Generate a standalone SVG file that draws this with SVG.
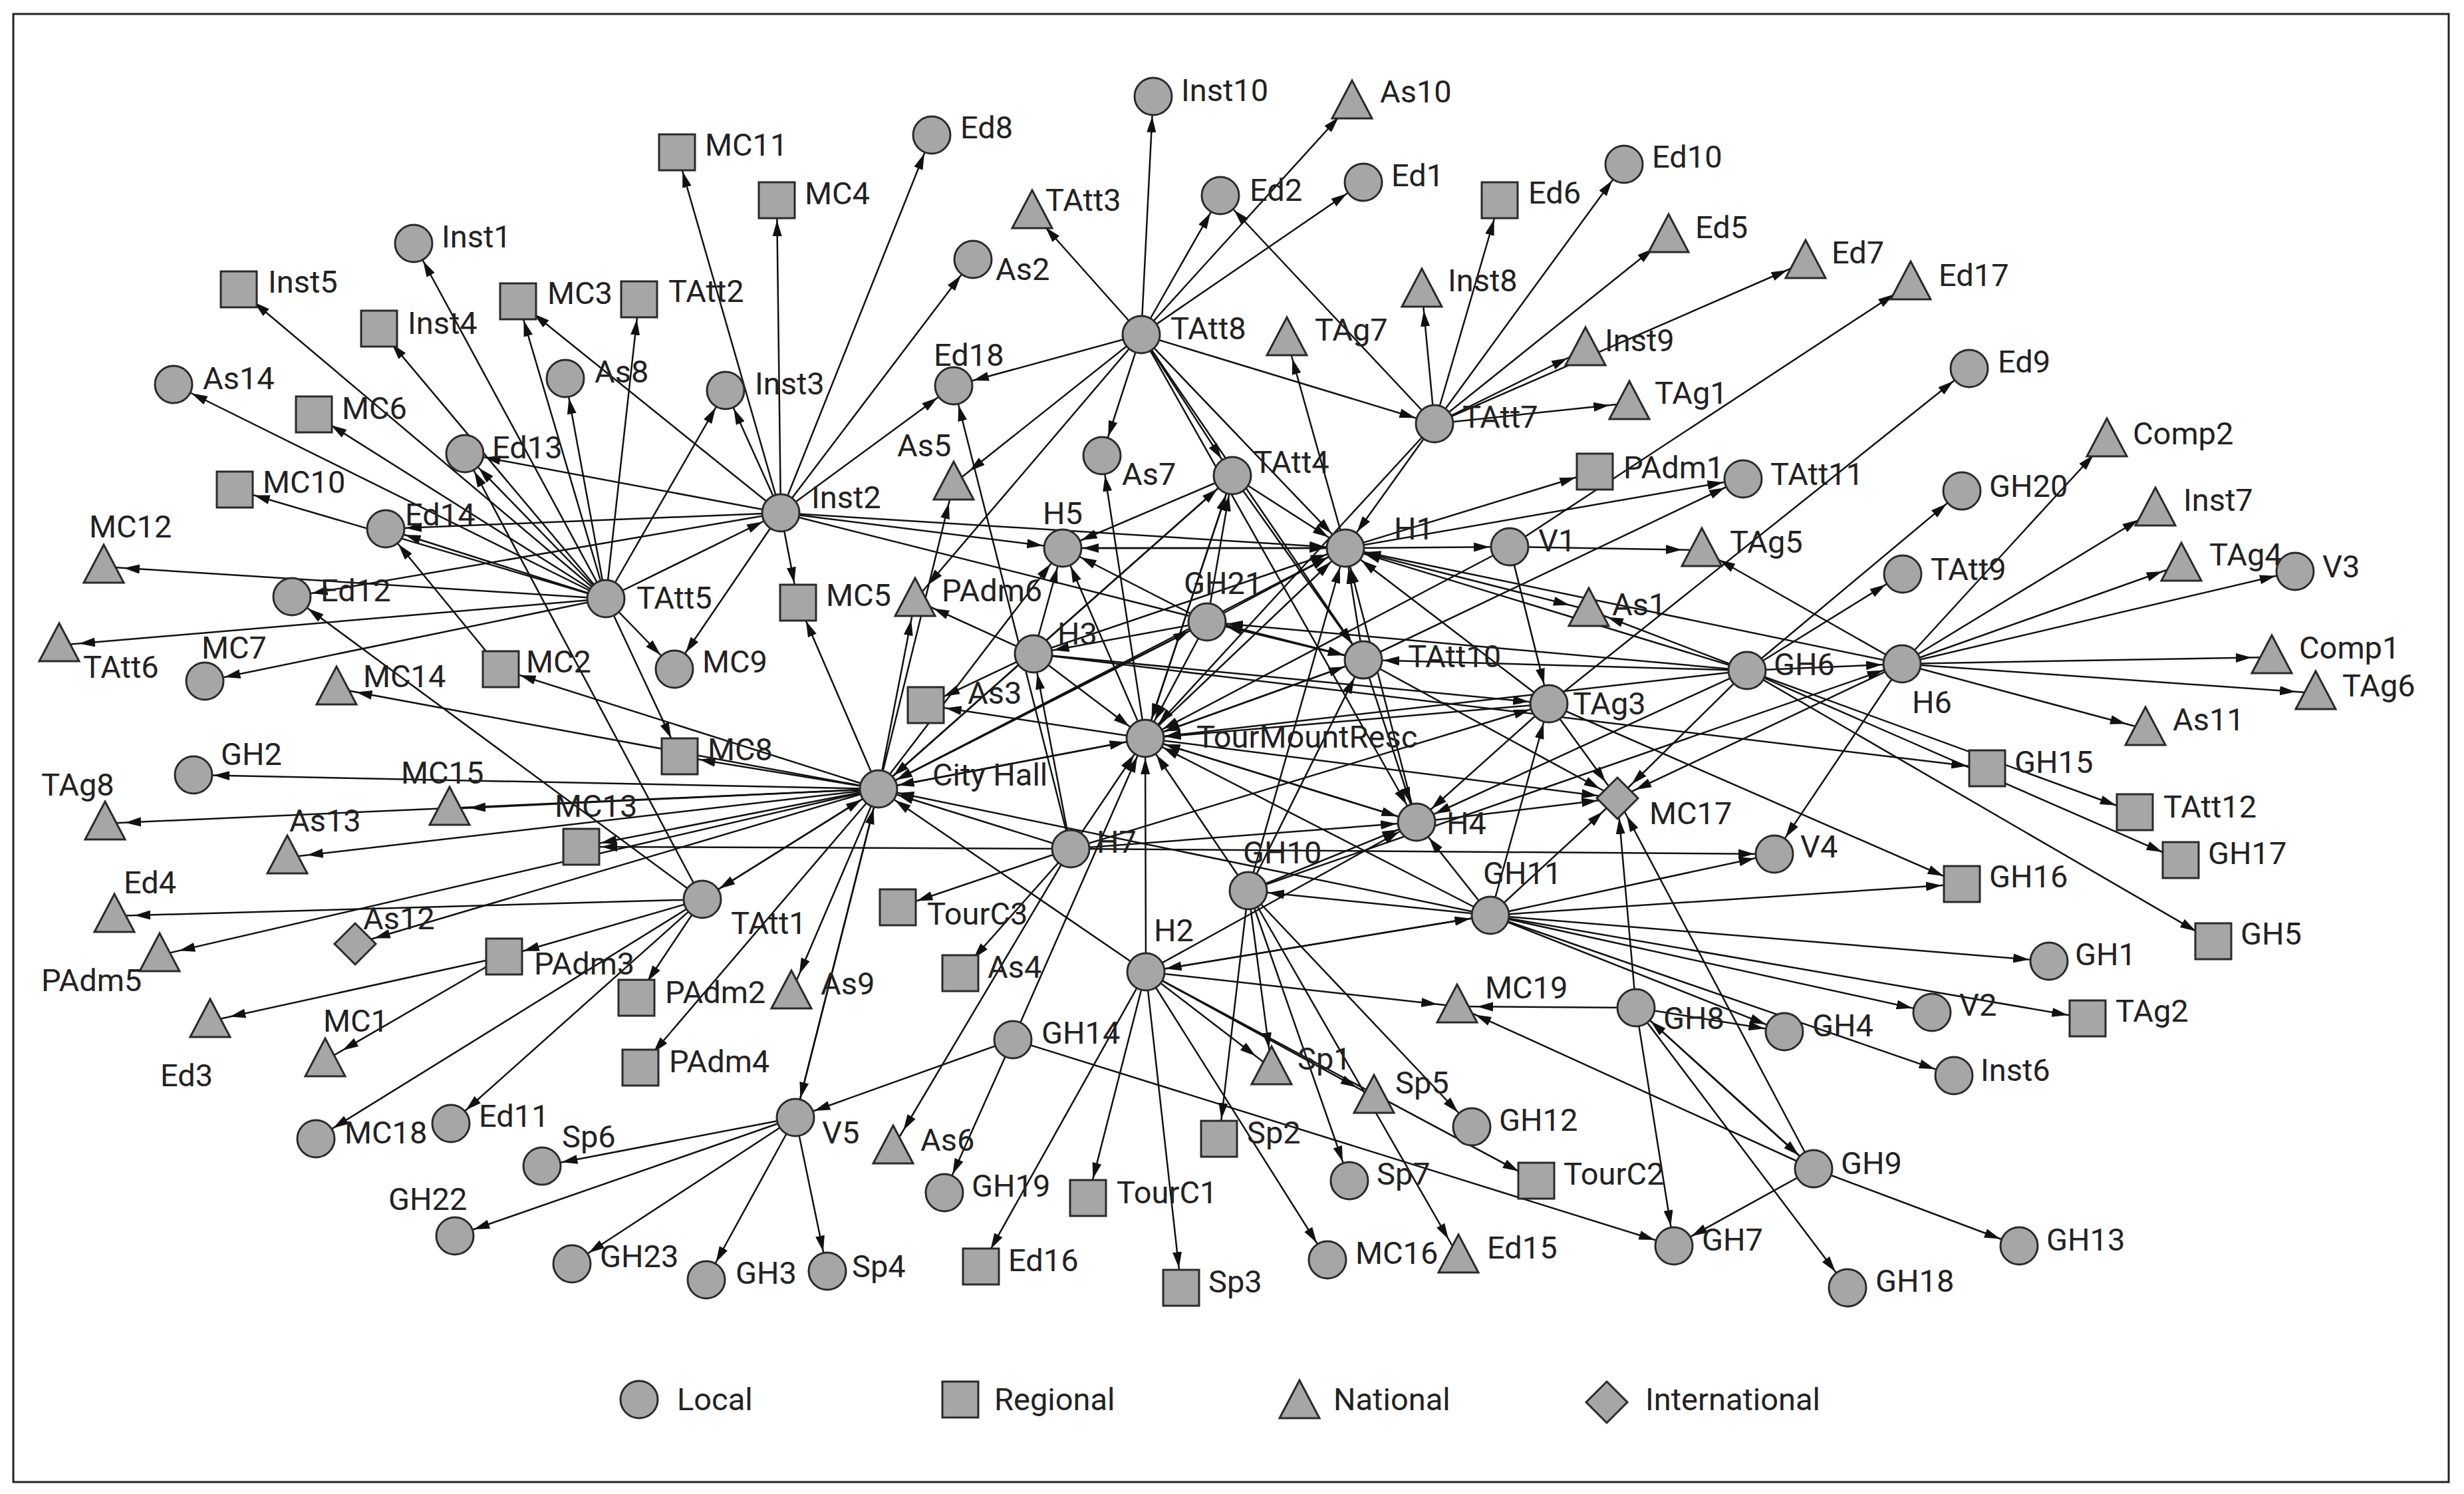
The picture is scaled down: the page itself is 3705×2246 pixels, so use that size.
<svg xmlns="http://www.w3.org/2000/svg" xmlns:xlink="http://www.w3.org/1999/xlink" width="3705" height="2246" viewBox="0 0 3705 2246">
<style>
.e{stroke:#111;stroke-width:2.5;fill:none;marker-end:url(#a)}
.n{fill:#a6a6a6;stroke:#2a2a2a;stroke-width:3}
text{font-family:Roboto,"Liberation Sans",sans-serif;font-size:47px;fill:#222}
</style>
<defs>
<marker id="a" markerUnits="userSpaceOnUse" markerWidth="60" markerHeight="20" viewBox="0 0 60 20" refX="54" refY="10" orient="auto"><path d="M0,3 L24,10 L0,17 z" fill="#111"/></marker>
<circle id="c" class="n" cx="0" cy="0" r="28"/>
<rect id="s" class="n" x="-27" y="-27" width="54" height="54"/>
<polygon id="t" class="n" points="0,-33 30,24 -30,24"/>
<polygon id="d" class="n" points="0,-31 31,0 0,31 -31,0"/>
</defs>
<rect x="0" y="0" width="3705" height="2246" fill="#fff"/>
<rect x="20" y="21" width="3662" height="2207" fill="none" stroke="#222" stroke-width="3"/>
<g id="connectors">
<line class="e" x1="911" y1="900" x2="622" y2="366"/>
<line class="e" x1="911" y1="900" x2="359" y2="435"/>
<line class="e" x1="911" y1="900" x2="570" y2="494"/>
<line class="e" x1="911" y1="900" x2="779" y2="453"/>
<line class="e" x1="911" y1="900" x2="961" y2="450"/>
<line class="e" x1="911" y1="900" x2="850" y2="569"/>
<line class="e" x1="911" y1="900" x2="1091" y2="587"/>
<line class="e" x1="911" y1="900" x2="261" y2="578"/>
<line class="e" x1="911" y1="900" x2="472" y2="623"/>
<line class="e" x1="911" y1="900" x2="580" y2="795"/>
<line class="e" x1="911" y1="900" x2="353" y2="736"/>
<line class="e" x1="911" y1="900" x2="156" y2="852"/>
<line class="e" x1="911" y1="900" x2="89" y2="970"/>
<line class="e" x1="911" y1="900" x2="308" y2="1024"/>
<line class="e" x1="911" y1="900" x2="1014" y2="1006"/>
<line class="e" x1="911" y1="900" x2="1022" y2="1137"/>
<line class="e" x1="911" y1="900" x2="1174" y2="771"/>
<line class="e" x1="911" y1="900" x2="699" y2="682"/>
<line class="e" x1="1174" y1="771" x2="1018" y2="229"/>
<line class="e" x1="1174" y1="771" x2="1168" y2="301"/>
<line class="e" x1="1174" y1="771" x2="1401" y2="203"/>
<line class="e" x1="1174" y1="771" x2="1463" y2="390"/>
<line class="e" x1="1174" y1="771" x2="1434" y2="580"/>
<line class="e" x1="1174" y1="771" x2="1091" y2="587"/>
<line class="e" x1="1174" y1="771" x2="439" y2="897"/>
<line class="e" x1="1174" y1="771" x2="580" y2="795"/>
<line class="e" x1="1174" y1="771" x2="1200" y2="906"/>
<line class="e" x1="1174" y1="771" x2="1014" y2="1006"/>
<line class="e" x1="1174" y1="771" x2="1598" y2="824"/>
<line class="e" x1="1174" y1="771" x2="2023" y2="824"/>
<line class="e" x1="1174" y1="771" x2="699" y2="682"/>
<line class="e" x1="1174" y1="771" x2="2050" y2="992"/>
<line class="e" x1="1174" y1="771" x2="779" y2="453"/>
<line class="e" x1="1056" y1="1352" x2="439" y2="897"/>
<line class="e" x1="1056" y1="1352" x2="172" y2="1377"/>
<line class="e" x1="1056" y1="1352" x2="758" y2="1438"/>
<line class="e" x1="1056" y1="1352" x2="475" y2="1712"/>
<line class="e" x1="1056" y1="1352" x2="678" y2="1689"/>
<line class="e" x1="1056" y1="1352" x2="957" y2="1500"/>
<line class="e" x1="1056" y1="1352" x2="1321" y2="1186"/>
<line class="e" x1="1056" y1="1352" x2="699" y2="682"/>
<line class="e" x1="753" y1="1006" x2="580" y2="795"/>
<line class="e" x1="758" y1="1438" x2="316" y2="1535"/>
<line class="e" x1="758" y1="1438" x2="489" y2="1594"/>
<line class="e" x1="1321" y1="1186" x2="291" y2="1165"/>
<line class="e" x1="1321" y1="1186" x2="158" y2="1238"/>
<line class="e" x1="1321" y1="1186" x2="676" y2="1216"/>
<line class="e" x1="1321" y1="1186" x2="432" y2="1289"/>
<line class="e" x1="1321" y1="1186" x2="874" y2="1273"/>
<line class="e" x1="1321" y1="1186" x2="240" y2="1436"/>
<line class="e" x1="1321" y1="1186" x2="534" y2="1419"/>
<line class="e" x1="1321" y1="1186" x2="963" y2="1605"/>
<line class="e" x1="1321" y1="1186" x2="1022" y2="1137"/>
<line class="e" x1="1321" y1="1186" x2="753" y2="1006"/>
<line class="e" x1="1321" y1="1186" x2="506" y2="1035"/>
<line class="e" x1="1321" y1="1186" x2="1190" y2="1492"/>
<line class="e" x1="1321" y1="1186" x2="1056" y2="1352"/>
<line class="e" x1="1321" y1="1186" x2="1200" y2="906"/>
<line class="e" x1="1321" y1="1186" x2="1376" y2="902"/>
<line class="e" x1="1321" y1="1186" x2="1434" y2="727"/>
<line class="e" x1="1321" y1="1186" x2="1722" y2="1110"/>
<line class="e" x1="1321" y1="1186" x2="1853" y2="715"/>
<line class="e" x1="1321" y1="1186" x2="2023" y2="824"/>
<line class="e" x1="1321" y1="1186" x2="1815" y2="935"/>
<line class="e" x1="1321" y1="1186" x2="1196" y2="1680"/>
<line class="e" x1="1321" y1="1186" x2="1598" y2="824"/>
<line class="e" x1="1196" y1="1680" x2="815" y2="1753"/>
<line class="e" x1="1196" y1="1680" x2="684" y2="1858"/>
<line class="e" x1="1196" y1="1680" x2="860" y2="1900"/>
<line class="e" x1="1196" y1="1680" x2="1062" y2="1924"/>
<line class="e" x1="1196" y1="1680" x2="1244" y2="1911"/>
<line class="e" x1="1196" y1="1680" x2="1321" y2="1186"/>
<line class="e" x1="1610" y1="1276" x2="1722" y2="1110"/>
<line class="e" x1="1610" y1="1276" x2="1321" y2="1186"/>
<line class="e" x1="1610" y1="1276" x2="1350" y2="1364"/>
<line class="e" x1="1610" y1="1276" x2="1444" y2="1463"/>
<line class="e" x1="1610" y1="1276" x2="1343" y2="1725"/>
<line class="e" x1="1610" y1="1276" x2="1554" y2="983"/>
<line class="e" x1="1610" y1="1276" x2="1434" y2="580"/>
<line class="e" x1="1610" y1="1276" x2="2130" y2="1236"/>
<line class="e" x1="1610" y1="1276" x2="2329" y2="1058"/>
<line class="e" x1="1610" y1="1276" x2="874" y2="1273"/>
<line class="e" x1="1610" y1="1276" x2="2668" y2="1284"/>
<line class="e" x1="1723" y1="1461" x2="1722" y2="1110"/>
<line class="e" x1="1723" y1="1461" x2="1475" y2="1904"/>
<line class="e" x1="1723" y1="1461" x2="1636" y2="1801"/>
<line class="e" x1="1723" y1="1461" x2="1776" y2="1936"/>
<line class="e" x1="1723" y1="1461" x2="1996" y2="1894"/>
<line class="e" x1="1723" y1="1461" x2="1912" y2="1606"/>
<line class="e" x1="1723" y1="1461" x2="2066" y2="1649"/>
<line class="e" x1="1723" y1="1461" x2="2310" y2="1775"/>
<line class="e" x1="1723" y1="1461" x2="2191" y2="1513"/>
<line class="e" x1="1723" y1="1461" x2="2241" y2="1376"/>
<line class="e" x1="1723" y1="1461" x2="1321" y2="1186"/>
<line class="e" x1="1723" y1="1461" x2="2130" y2="1236"/>
<line class="e" x1="1877" y1="1339" x2="1833" y2="1712"/>
<line class="e" x1="1877" y1="1339" x2="1912" y2="1606"/>
<line class="e" x1="1877" y1="1339" x2="2029" y2="1775"/>
<line class="e" x1="1877" y1="1339" x2="2213" y2="1694"/>
<line class="e" x1="1877" y1="1339" x2="2193" y2="1889"/>
<line class="e" x1="1877" y1="1339" x2="1722" y2="1110"/>
<line class="e" x1="1877" y1="1339" x2="2130" y2="1236"/>
<line class="e" x1="1877" y1="1339" x2="2050" y2="992"/>
<line class="e" x1="1877" y1="1339" x2="2023" y2="824"/>
<line class="e" x1="1877" y1="1339" x2="2860" y2="998"/>
<line class="e" x1="1523" y1="1563" x2="1196" y2="1680"/>
<line class="e" x1="1523" y1="1563" x2="1420" y2="1793"/>
<line class="e" x1="1523" y1="1563" x2="2517" y2="1873"/>
<line class="e" x1="1523" y1="1563" x2="1722" y2="1110"/>
<line class="e" x1="2241" y1="1376" x2="2130" y2="1236"/>
<line class="e" x1="2241" y1="1376" x2="1723" y2="1461"/>
<line class="e" x1="2241" y1="1376" x2="1877" y2="1339"/>
<line class="e" x1="2241" y1="1376" x2="2668" y2="1284"/>
<line class="e" x1="2241" y1="1376" x2="2950" y2="1329"/>
<line class="e" x1="2241" y1="1376" x2="3081" y2="1445"/>
<line class="e" x1="2241" y1="1376" x2="2905" y2="1522"/>
<line class="e" x1="2241" y1="1376" x2="3139" y2="1531"/>
<line class="e" x1="2241" y1="1376" x2="2683" y2="1551"/>
<line class="e" x1="2241" y1="1376" x2="2938" y2="1617"/>
<line class="e" x1="2241" y1="1376" x2="1722" y2="1110"/>
<line class="e" x1="2241" y1="1376" x2="1321" y2="1186"/>
<line class="e" x1="2241" y1="1376" x2="2432" y2="1200"/>
<line class="e" x1="2241" y1="1376" x2="2329" y2="1058"/>
<line class="e" x1="2460" y1="1515" x2="2517" y2="1873"/>
<line class="e" x1="2460" y1="1515" x2="2778" y2="1936"/>
<line class="e" x1="2460" y1="1515" x2="2727" y2="1757"/>
<line class="e" x1="2460" y1="1515" x2="2191" y2="1513"/>
<line class="e" x1="2460" y1="1515" x2="2683" y2="1551"/>
<line class="e" x1="2460" y1="1515" x2="2432" y2="1200"/>
<line class="e" x1="2727" y1="1757" x2="2517" y2="1873"/>
<line class="e" x1="2727" y1="1757" x2="3036" y2="1873"/>
<line class="e" x1="2727" y1="1757" x2="2460" y2="1515"/>
<line class="e" x1="2727" y1="1757" x2="2432" y2="1200"/>
<line class="e" x1="2727" y1="1757" x2="2191" y2="1513"/>
<line class="e" x1="2627" y1="1008" x2="2861" y2="863"/>
<line class="e" x1="2627" y1="1008" x2="2950" y2="738"/>
<line class="e" x1="2627" y1="1008" x2="2023" y2="824"/>
<line class="e" x1="2627" y1="1008" x2="1722" y2="1110"/>
<line class="e" x1="2627" y1="1008" x2="2050" y2="992"/>
<line class="e" x1="2627" y1="1008" x2="1815" y2="935"/>
<line class="e" x1="2627" y1="1008" x2="3210" y2="1221"/>
<line class="e" x1="2627" y1="1008" x2="3279" y2="1293"/>
<line class="e" x1="2627" y1="1008" x2="3328" y2="1415"/>
<line class="e" x1="2627" y1="1008" x2="2130" y2="1236"/>
<line class="e" x1="2627" y1="1008" x2="2432" y2="1200"/>
<line class="e" x1="2627" y1="1008" x2="2860" y2="998"/>
<line class="e" x1="2627" y1="1008" x2="2389" y2="917"/>
<line class="e" x1="2860" y1="998" x2="3168" y2="662"/>
<line class="e" x1="2860" y1="998" x2="3241" y2="766"/>
<line class="e" x1="2860" y1="998" x2="3280" y2="849"/>
<line class="e" x1="2860" y1="998" x2="3451" y2="859"/>
<line class="e" x1="2860" y1="998" x2="3416" y2="988"/>
<line class="e" x1="2860" y1="998" x2="3482" y2="1042"/>
<line class="e" x1="2860" y1="998" x2="3226" y2="1096"/>
<line class="e" x1="2860" y1="998" x2="2559" y2="827"/>
<line class="e" x1="2860" y1="998" x2="2023" y2="824"/>
<line class="e" x1="2860" y1="998" x2="2668" y2="1284"/>
<line class="e" x1="2860" y1="998" x2="2432" y2="1200"/>
<line class="e" x1="1716" y1="503" x2="1734" y2="145"/>
<line class="e" x1="1716" y1="503" x2="1835" y2="294"/>
<line class="e" x1="1716" y1="503" x2="2033" y2="154"/>
<line class="e" x1="1716" y1="503" x2="2050" y2="274"/>
<line class="e" x1="1716" y1="503" x2="1552" y2="319"/>
<line class="e" x1="1716" y1="503" x2="1434" y2="580"/>
<line class="e" x1="1716" y1="503" x2="1657" y2="685"/>
<line class="e" x1="1716" y1="503" x2="1434" y2="727"/>
<line class="e" x1="1716" y1="503" x2="1376" y2="902"/>
<line class="e" x1="1716" y1="503" x2="2157" y2="637"/>
<line class="e" x1="1716" y1="503" x2="2023" y2="824"/>
<line class="e" x1="1716" y1="503" x2="1853" y2="715"/>
<line class="e" x1="1716" y1="503" x2="2050" y2="992"/>
<line class="e" x1="1716" y1="503" x2="2130" y2="1236"/>
<line class="e" x1="2157" y1="637" x2="2255" y2="301"/>
<line class="e" x1="2157" y1="637" x2="2442" y2="247"/>
<line class="e" x1="2157" y1="637" x2="2509" y2="355"/>
<line class="e" x1="2157" y1="637" x2="2715" y2="394"/>
<line class="e" x1="2157" y1="637" x2="2384" y2="525"/>
<line class="e" x1="2157" y1="637" x2="2450" y2="606"/>
<line class="e" x1="2157" y1="637" x2="2138" y2="437"/>
<line class="e" x1="2157" y1="637" x2="1835" y2="294"/>
<line class="e" x1="2157" y1="637" x2="2023" y2="824"/>
<line class="e" x1="2157" y1="637" x2="1722" y2="1110"/>
<line class="e" x1="2023" y1="824" x2="1935" y2="510"/>
<line class="e" x1="2023" y1="824" x2="2270" y2="822"/>
<line class="e" x1="2023" y1="824" x2="2398" y2="709"/>
<line class="e" x1="2023" y1="824" x2="2621" y2="720"/>
<line class="e" x1="2023" y1="824" x2="1598" y2="824"/>
<line class="e" x1="2023" y1="824" x2="2389" y2="917"/>
<line class="e" x1="2270" y1="822" x2="2559" y2="827"/>
<line class="e" x1="2270" y1="822" x2="2329" y2="1058"/>
<line class="e" x1="2270" y1="822" x2="2873" y2="426"/>
<line class="e" x1="2270" y1="822" x2="1722" y2="1110"/>
<line class="e" x1="1853" y1="715" x2="2023" y2="824"/>
<line class="e" x1="1853" y1="715" x2="1598" y2="824"/>
<line class="e" x1="1853" y1="715" x2="2050" y2="992"/>
<line class="e" x1="1853" y1="715" x2="1321" y2="1186"/>
<line class="e" x1="1853" y1="715" x2="1722" y2="1110"/>
<line class="e" x1="2050" y1="992" x2="2130" y2="1236"/>
<line class="e" x1="2050" y1="992" x2="2023" y2="824"/>
<line class="e" x1="2050" y1="992" x2="1722" y2="1110"/>
<line class="e" x1="2050" y1="992" x2="1815" y2="935"/>
<line class="e" x1="2050" y1="992" x2="2432" y2="1200"/>
<line class="e" x1="2050" y1="992" x2="2621" y2="720"/>
<line class="e" x1="1722" y1="1110" x2="1321" y2="1186"/>
<line class="e" x1="1722" y1="1110" x2="1598" y2="824"/>
<line class="e" x1="1722" y1="1110" x2="2023" y2="824"/>
<line class="e" x1="1722" y1="1110" x2="2130" y2="1236"/>
<line class="e" x1="1722" y1="1110" x2="2432" y2="1200"/>
<line class="e" x1="1722" y1="1110" x2="2050" y2="992"/>
<line class="e" x1="1722" y1="1110" x2="1392" y2="1060"/>
<line class="e" x1="1722" y1="1110" x2="1853" y2="715"/>
<line class="e" x1="1722" y1="1110" x2="1657" y2="685"/>
<line class="e" x1="1554" y1="983" x2="1598" y2="824"/>
<line class="e" x1="1554" y1="983" x2="1722" y2="1110"/>
<line class="e" x1="1554" y1="983" x2="1376" y2="902"/>
<line class="e" x1="1554" y1="983" x2="1392" y2="1060"/>
<line class="e" x1="1554" y1="983" x2="2023" y2="824"/>
<line class="e" x1="1554" y1="983" x2="2329" y2="1058"/>
<line class="e" x1="1554" y1="983" x2="2988" y2="1155"/>
<line class="e" x1="1815" y1="935" x2="1598" y2="824"/>
<line class="e" x1="1815" y1="935" x2="2023" y2="824"/>
<line class="e" x1="1815" y1="935" x2="2050" y2="992"/>
<line class="e" x1="1815" y1="935" x2="1722" y2="1110"/>
<line class="e" x1="1815" y1="935" x2="1321" y2="1186"/>
<line class="e" x1="1815" y1="935" x2="1853" y2="715"/>
<line class="e" x1="1815" y1="935" x2="1554" y2="983"/>
<line class="e" x1="2329" y1="1058" x2="2432" y2="1200"/>
<line class="e" x1="2329" y1="1058" x2="1722" y2="1110"/>
<line class="e" x1="2329" y1="1058" x2="2023" y2="824"/>
<line class="e" x1="2329" y1="1058" x2="2950" y2="1329"/>
<line class="e" x1="2329" y1="1058" x2="2130" y2="1236"/>
<line class="e" x1="2329" y1="1058" x2="2961" y2="554"/>
<line class="e" x1="2130" y1="1236" x2="1722" y2="1110"/>
<line class="e" x1="2130" y1="1236" x2="2023" y2="824"/>
<line class="e" x1="2130" y1="1236" x2="2432" y2="1200"/>
<line class="e" x1="1598" y1="824" x2="2023" y2="824"/>
</g>
<g id="n-Inst1"><use href="#c" x="622" y="366"/><text x="664" y="372">Inst1</text></g>
<g id="n-Inst5"><use href="#s" x="359" y="435"/><text x="403" y="440">Inst5</text></g>
<g id="n-Inst4"><use href="#s" x="570" y="494"/><text x="613" y="502">Inst4</text></g>
<g id="n-MC3"><use href="#s" x="779" y="453"/><text x="823" y="457">MC3</text></g>
<g id="n-TAtt2"><use href="#s" x="961" y="450"/><text x="1005" y="454">TAtt2</text></g>
<g id="n-MC11"><use href="#s" x="1018" y="229"/><text x="1060" y="234">MC11</text></g>
<g id="n-MC4"><use href="#s" x="1168" y="301"/><text x="1210" y="307">MC4</text></g>
<g id="n-As14"><use href="#c" x="261" y="578"/><text x="305" y="585">As14</text></g>
<g id="n-As8"><use href="#c" x="850" y="569"/><text x="894" y="575">As8</text></g>
<g id="n-Inst3"><use href="#c" x="1091" y="587"/><text x="1135" y="593">Inst3</text></g>
<g id="n-MC6"><use href="#s" x="472" y="623"/><text x="514" y="630">MC6</text></g>
<g id="n-Ed13"><use href="#c" x="699" y="682"/><text x="740" y="689">Ed13</text></g>
<g id="n-MC10"><use href="#s" x="353" y="736"/><text x="395" y="741">MC10</text></g>
<g id="n-Ed14"><use href="#c" x="580" y="795"/><text x="609" y="790">Ed14</text></g>
<g id="n-MC12"><use href="#t" x="156" y="852"/><text x="134" y="808">MC12</text></g>
<g id="n-Inst2"><use href="#c" x="1174" y="771"/><text x="1220" y="764">Inst2</text></g>
<g id="n-Ed12"><use href="#c" x="439" y="897"/><text x="482" y="904">Ed12</text></g>
<g id="n-TAtt5"><use href="#c" x="911" y="900"/><text x="957" y="915">TAtt5</text></g>
<g id="n-MC5"><use href="#s" x="1200" y="906"/><text x="1242" y="911">MC5</text></g>
<g id="n-TAtt6"><use href="#t" x="89" y="970"/><text x="125" y="1019">TAtt6</text></g>
<g id="n-MC7"><use href="#c" x="308" y="1024"/><text x="303" y="990">MC7</text></g>
<g id="n-MC14"><use href="#t" x="506" y="1035"/><text x="546" y="1033">MC14</text></g>
<g id="n-MC2"><use href="#s" x="753" y="1006"/><text x="791" y="1011">MC2</text></g>
<g id="n-MC9"><use href="#c" x="1014" y="1006"/><text x="1056" y="1011">MC9</text></g>
<g id="n-MC8"><use href="#s" x="1022" y="1137"/><text x="1064" y="1143">MC8</text></g>
<g id="n-Ed8"><use href="#c" x="1401" y="203"/><text x="1444" y="208">Ed8</text></g>
<g id="n-Inst10"><use href="#c" x="1734" y="145"/><text x="1776" y="152">Inst10</text></g>
<g id="n-As10"><use href="#t" x="2033" y="154"/><text x="2075" y="154">As10</text></g>
<g id="n-TAtt3"><use href="#t" x="1552" y="319"/><text x="1572" y="317">TAtt3</text></g>
<g id="n-Ed2"><use href="#c" x="1835" y="294"/><text x="1879" y="302">Ed2</text></g>
<g id="n-Ed1"><use href="#c" x="2050" y="274"/><text x="2092" y="280">Ed1</text></g>
<g id="n-Ed6"><use href="#s" x="2255" y="301"/><text x="2298" y="306">Ed6</text></g>
<g id="n-Ed10"><use href="#c" x="2442" y="247"/><text x="2484" y="252">Ed10</text></g>
<g id="n-As2"><use href="#c" x="1463" y="390"/><text x="1497" y="421">As2</text></g>
<g id="n-Inst8"><use href="#t" x="2138" y="437"/><text x="2177" y="438">Inst8</text></g>
<g id="n-TAtt8"><use href="#c" x="1716" y="503"/><text x="1760" y="510">TAtt8</text></g>
<g id="n-TAg7"><use href="#t" x="1935" y="510"/><text x="1977" y="512">TAg7</text></g>
<g id="n-Ed18"><use href="#c" x="1434" y="580"/><text x="1404" y="550">Ed18</text></g>
<g id="n-TAtt7"><use href="#c" x="2157" y="637"/><text x="2199" y="643">TAtt7</text></g>
<g id="n-As7"><use href="#c" x="1657" y="685"/><text x="1687" y="729">As7</text></g>
<g id="n-TAtt4"><use href="#c" x="1853" y="715"/><text x="1885" y="711">TAtt4</text></g>
<g id="n-As5"><use href="#t" x="1434" y="727"/><text x="1349" y="686">As5</text></g>
<g id="n-PAdm1"><use href="#s" x="2398" y="709"/><text x="2441" y="719">PAdm1</text></g>
<g id="n-H5"><use href="#c" x="1598" y="824"/><text x="1568" y="788">H5</text></g>
<g id="n-H1"><use href="#c" x="2023" y="824"/><text x="2096" y="811">H1</text></g>
<g id="n-V1"><use href="#c" x="2270" y="822"/><text x="2313" y="829">V1</text></g>
<g id="n-PAdm6"><use href="#t" x="1376" y="902"/><text x="1416" y="904">PAdm6</text></g>
<g id="n-GH21"><use href="#c" x="1815" y="935"/><text x="1780" y="893">GH21</text></g>
<g id="n-H3"><use href="#c" x="1554" y="983"/><text x="1590" y="969">H3</text></g>
<g id="n-As1"><use href="#t" x="2389" y="917"/><text x="2424" y="925">As1</text></g>
<g id="n-TAtt10"><use href="#c" x="2050" y="992"/><text x="2117" y="1003">TAtt10</text></g>
<g id="n-As3"><use href="#s" x="1392" y="1060"/><text x="1455" y="1058">As3</text></g>
<g id="n-TAg3"><use href="#c" x="2329" y="1058"/><text x="2365" y="1074">TAg3</text></g>
<g id="n-TourMountResc"><use href="#c" x="1722" y="1110"/><text x="1799" y="1124">TourMountResc</text></g>
<g id="n-Ed5"><use href="#t" x="2509" y="355"/><text x="2549" y="358">Ed5</text></g>
<g id="n-Ed7"><use href="#t" x="2715" y="394"/><text x="2754" y="396">Ed7</text></g>
<g id="n-Ed17"><use href="#t" x="2873" y="426"/><text x="2915" y="430">Ed17</text></g>
<g id="n-Inst9"><use href="#t" x="2384" y="525"/><text x="2413" y="528">Inst9</text></g>
<g id="n-TAg1"><use href="#t" x="2450" y="606"/><text x="2488" y="607">TAg1</text></g>
<g id="n-Ed9"><use href="#c" x="2961" y="554"/><text x="3004" y="560">Ed9</text></g>
<g id="n-Comp2"><use href="#t" x="3168" y="662"/><text x="3207" y="668">Comp2</text></g>
<g id="n-TAtt11"><use href="#c" x="2621" y="720"/><text x="2662" y="729">TAtt11</text></g>
<g id="n-GH20"><use href="#c" x="2950" y="738"/><text x="2991" y="747">GH20</text></g>
<g id="n-Inst7"><use href="#t" x="3241" y="766"/><text x="3283" y="768">Inst7</text></g>
<g id="n-TAg5"><use href="#t" x="2559" y="827"/><text x="2601" y="831">TAg5</text></g>
<g id="n-TAtt9"><use href="#c" x="2861" y="863"/><text x="2903" y="872">TAtt9</text></g>
<g id="n-TAg4"><use href="#t" x="3280" y="849"/><text x="3322" y="850">TAg4</text></g>
<g id="n-V3"><use href="#c" x="3451" y="859"/><text x="3492" y="868">V3</text></g>
<g id="n-Comp1"><use href="#t" x="3416" y="988"/><text x="3457" y="990">Comp1</text></g>
<g id="n-GH6"><use href="#c" x="2627" y="1008"/><text x="2667" y="1015">GH6</text></g>
<g id="n-H6"><use href="#c" x="2860" y="998"/><text x="2875" y="1072">H6</text></g>
<g id="n-TAg6"><use href="#t" x="3482" y="1042"/><text x="3522" y="1047">TAg6</text></g>
<g id="n-As11"><use href="#t" x="3226" y="1096"/><text x="3267" y="1098">As11</text></g>
<g id="n-GH2"><use href="#c" x="291" y="1165"/><text x="332" y="1150">GH2</text></g>
<g id="n-TAg8"><use href="#t" x="158" y="1238"/><text x="62" y="1196">TAg8</text></g>
<g id="n-MC15"><use href="#t" x="676" y="1216"/><text x="603" y="1178">MC15</text></g>
<g id="n-As13"><use href="#t" x="432" y="1289"/><text x="435" y="1250">As13</text></g>
<g id="n-MC13"><use href="#s" x="874" y="1273"/><text x="834" y="1228">MC13</text></g>
<g id="n-Ed4"><use href="#t" x="172" y="1377"/><text x="186" y="1343">Ed4</text></g>
<g id="n-TAtt1"><use href="#c" x="1056" y="1352"/><text x="1099" y="1404">TAtt1</text></g>
<g id="n-As12"><use href="#d" x="534" y="1419"/><text x="546" y="1397">As12</text></g>
<g id="n-PAdm5"><use href="#t" x="240" y="1436"/><text x="62" y="1490">PAdm5</text></g>
<g id="n-PAdm3"><use href="#s" x="758" y="1438"/><text x="803" y="1465">PAdm3</text></g>
<g id="n-PAdm2"><use href="#s" x="957" y="1500"/><text x="1000" y="1508">PAdm2</text></g>
<g id="n-As9"><use href="#t" x="1190" y="1492"/><text x="1234" y="1495">As9</text></g>
<g id="n-Ed3"><use href="#t" x="316" y="1535"/><text x="241" y="1633">Ed3</text></g>
<g id="n-MC1"><use href="#t" x="489" y="1594"/><text x="486" y="1551">MC1</text></g>
<g id="n-PAdm4"><use href="#s" x="963" y="1605"/><text x="1006" y="1612">PAdm4</text></g>
<g id="n-V5"><use href="#c" x="1196" y="1680"/><text x="1236" y="1719">V5</text></g>
<g id="n-Ed11"><use href="#c" x="678" y="1689"/><text x="720" y="1694">Ed11</text></g>
<g id="n-MC18"><use href="#c" x="475" y="1712"/><text x="518" y="1719">MC18</text></g>
<g id="n-Sp6"><use href="#c" x="815" y="1753"/><text x="845" y="1725">Sp6</text></g>
<g id="n-GH22"><use href="#c" x="684" y="1858"/><text x="584" y="1819">GH22</text></g>
<g id="n-GH23"><use href="#c" x="860" y="1900"/><text x="902" y="1905">GH23</text></g>
<g id="n-GH3"><use href="#c" x="1062" y="1924"/><text x="1106" y="1930">GH3</text></g>
<g id="n-Sp4"><use href="#c" x="1244" y="1911"/><text x="1281" y="1920">Sp4</text></g>
<g id="n-CityHall"><use href="#c" x="1321" y="1186"/><text x="1402" y="1181">City Hall</text></g>
<g id="n-H7"><use href="#c" x="1610" y="1276"/><text x="1649" y="1282">H7</text></g>
<g id="n-H4"><use href="#c" x="2130" y="1236"/><text x="2175" y="1254">H4</text></g>
<g id="n-GH10"><use href="#c" x="1877" y="1339"/><text x="1869" y="1298">GH10</text></g>
<g id="n-GH11"><use href="#c" x="2241" y="1376"/><text x="2230" y="1329">GH11</text></g>
<g id="n-TourC3"><use href="#s" x="1350" y="1364"/><text x="1394" y="1390">TourC3</text></g>
<g id="n-MC17"><use href="#d" x="2432" y="1200"/><text x="2480" y="1239">MC17</text></g>
<g id="n-As4"><use href="#s" x="1444" y="1463"/><text x="1485" y="1470">As4</text></g>
<g id="n-H2"><use href="#c" x="1723" y="1461"/><text x="1735" y="1415">H2</text></g>
<g id="n-MC19"><use href="#t" x="2191" y="1513"/><text x="2233" y="1501">MC19</text></g>
<g id="n-GH8"><use href="#c" x="2460" y="1515"/><text x="2501" y="1547">GH8</text></g>
<g id="n-GH14"><use href="#c" x="1523" y="1563"/><text x="1566" y="1569">GH14</text></g>
<g id="n-Sp1"><use href="#t" x="1912" y="1606"/><text x="1951" y="1608">Sp1</text></g>
<g id="n-Sp5"><use href="#t" x="2066" y="1649"/><text x="2098" y="1644">Sp5</text></g>
<g id="n-GH12"><use href="#c" x="2213" y="1694"/><text x="2254" y="1700">GH12</text></g>
<g id="n-Sp2"><use href="#s" x="1833" y="1712"/><text x="1875" y="1719">Sp2</text></g>
<g id="n-As6"><use href="#t" x="1343" y="1725"/><text x="1384" y="1730">As6</text></g>
<g id="n-TourC2"><use href="#s" x="2310" y="1775"/><text x="2351" y="1781">TourC2</text></g>
<g id="n-Sp7"><use href="#c" x="2029" y="1775"/><text x="2070" y="1781">Sp7</text></g>
<g id="n-GH19"><use href="#c" x="1420" y="1793"/><text x="1461" y="1799">GH19</text></g>
<g id="n-TourC1"><use href="#s" x="1636" y="1801"/><text x="1679" y="1809">TourC1</text></g>
<g id="n-MC16"><use href="#c" x="1996" y="1894"/><text x="2038" y="1900">MC16</text></g>
<g id="n-Ed15"><use href="#t" x="2193" y="1889"/><text x="2236" y="1892">Ed15</text></g>
<g id="n-Ed16"><use href="#s" x="1475" y="1904"/><text x="1516" y="1911">Ed16</text></g>
<g id="n-Sp3"><use href="#s" x="1776" y="1936"/><text x="1817" y="1943">Sp3</text></g>
<g id="n-GH15"><use href="#s" x="2988" y="1155"/><text x="3029" y="1162">GH15</text></g>
<g id="n-TAtt12"><use href="#s" x="3210" y="1221"/><text x="3253" y="1229">TAtt12</text></g>
<g id="n-GH17"><use href="#s" x="3279" y="1293"/><text x="3320" y="1299">GH17</text></g>
<g id="n-V4"><use href="#c" x="2668" y="1284"/><text x="2707" y="1289">V4</text></g>
<g id="n-GH16"><use href="#s" x="2950" y="1329"/><text x="2991" y="1334">GH16</text></g>
<g id="n-GH5"><use href="#s" x="3328" y="1415"/><text x="3369" y="1420">GH5</text></g>
<g id="n-GH1"><use href="#c" x="3081" y="1445"/><text x="3120" y="1451">GH1</text></g>
<g id="n-V2"><use href="#c" x="2905" y="1522"/><text x="2946" y="1527">V2</text></g>
<g id="n-TAg2"><use href="#s" x="3139" y="1531"/><text x="3181" y="1536">TAg2</text></g>
<g id="n-GH4"><use href="#c" x="2683" y="1551"/><text x="2725" y="1558">GH4</text></g>
<g id="n-Inst6"><use href="#c" x="2938" y="1617"/><text x="2978" y="1625">Inst6</text></g>
<g id="n-GH9"><use href="#c" x="2727" y="1757"/><text x="2768" y="1765">GH9</text></g>
<g id="n-GH7"><use href="#c" x="2517" y="1873"/><text x="2559" y="1880">GH7</text></g>
<g id="n-GH13"><use href="#c" x="3036" y="1873"/><text x="3077" y="1880">GH13</text></g>
<g id="n-GH18"><use href="#c" x="2778" y="1936"/><text x="2820" y="1942">GH18</text></g>
<g id="legend">
<use href="#c" x="961" y="2104"/><text x="1018" y="2120">Local</text>
<use href="#s" x="1444" y="2104"/><text x="1495" y="2120">Regional</text>
<use href="#t" x="1954" y="2108"/><text x="2005" y="2120">National</text>
<use href="#d" x="2416" y="2108"/><text x="2474" y="2120">International</text>
</g>
</svg>
